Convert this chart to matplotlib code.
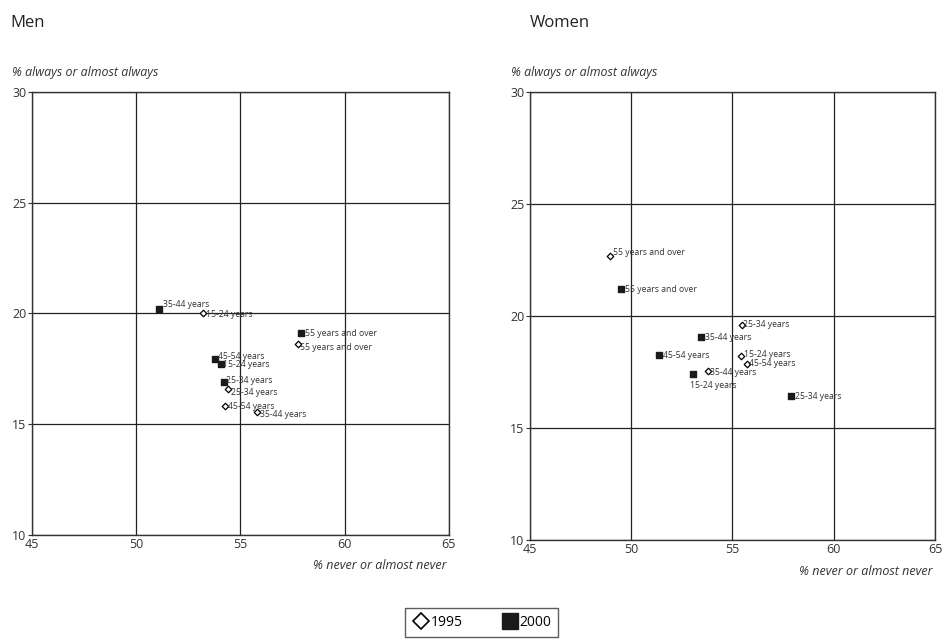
import matplotlib
matplotlib.use("Agg")
import matplotlib.pyplot as plt
from matplotlib.lines import Line2D

plt.rcParams['font.family'] = ['Open Sans', 'DejaVu Sans']

groups = ["15-24 years", "25-34 years", "35-44 years", "45-54 years", "55 years and over"]

# Men: x = % never or almost never, y = % always or almost always
men_1995_x = [53.2, 54.4, 55.8, 54.25, 57.75]
men_1995_y = [20.0, 16.6, 15.55, 15.8, 18.6]
men_2000_x = [54.05, 54.2, 51.1, 53.8, 57.9]
men_2000_y = [17.7, 16.9, 20.2, 17.95, 19.1]

# Women
women_1995_x = [55.42, 55.47, 53.8, 55.7, 48.95]
women_1995_y = [18.2, 19.6, 17.55, 17.86, 22.7]
women_2000_x = [53.05, 57.9, 53.45, 51.37, 49.5]
women_2000_y = [17.4, 16.43, 19.06, 18.26, 21.2]

# label offsets in points (dx, dy)
men_1995_off = [(2, -1), (2, -3), (2, -2), (2, 0), (2, -2)]
men_2000_off = [(2, 0), (2, 1), (3, 3), (2, 2), (3, 0)]
women_1995_off = [(2, 1), (1, 0), (1, -1), (2, 0), (2, 2)]
women_2000_off = [(-2, -8), (3, 0), (3, 0), (3, 0), (3, 0)]

fig = plt.figure(figsize=(9.43, 6.43), dpi=100)
ax_m = fig.add_axes([0.0339, 0.168, 0.442, 0.689])
ax_w = fig.add_axes([0.562, 0.160, 0.4295, 0.697])


def draw_panel(ax, x95, y95, x00, y00, off95, off00):
    ax.set_xlim(45, 65)
    ax.set_ylim(10, 30)
    ax.set_xticks([45, 50, 55, 60, 65])
    ax.set_yticks([10, 15, 20, 25, 30])
    ax.grid(True, color="#222222", linewidth=0.9)
    ax.set_axisbelow(True)
    for s in ax.spines.values():
        s.set_color("#333333")
        s.set_linewidth(1.0)
    ax.tick_params(axis="y", length=3, width=0.8, pad=1, labelsize=9, colors="#333333")
    ax.tick_params(axis="x", length=0, pad=2, labelsize=9, colors="#333333")
    ax.scatter(x95, y95, marker="D", s=11, facecolor="white", edgecolor="black", linewidths=0.9, zorder=3)
    ax.scatter(x00, y00, marker="s", s=24, facecolor="#1a1a1a", edgecolor="#1a1a1a", zorder=3)
    for i, g in enumerate(groups):
        ax.annotate(g, (x95[i], y95[i]), xytext=off95[i], textcoords="offset points",
                    fontsize=6.2, color="#333333", va="center", ha="left")
        ax.annotate(g, (x00[i], y00[i]), xytext=off00[i], textcoords="offset points",
                    fontsize=6.2, color="#333333", va="center", ha="left")
    ax.text(-0.048, 1.03, "% always or almost always", transform=ax.transAxes,
            fontsize=8.9, style="italic", color="#333333", ha="left", va="bottom")
    ax.text(0.995, -0.055, "% never or almost never", transform=ax.transAxes,
            fontsize=9, style="italic", color="#333333", ha="right", va="top")


draw_panel(ax_m, men_1995_x, men_1995_y, men_2000_x, men_2000_y, men_1995_off, men_2000_off)
draw_panel(ax_w, women_1995_x, women_1995_y, women_2000_x, women_2000_y, women_1995_off, women_2000_off)

fig.text(0.011, 0.965, "Men", fontsize=12, color="#222222", va="center")
fig.text(0.562, 0.965, "Women", fontsize=12, color="#222222", va="center")

handles = [
    Line2D([], [], marker="D", linestyle="none", markersize=8, markerfacecolor="white",
           markeredgecolor="black", markeredgewidth=1.2, label="1995"),
    Line2D([], [], marker="s", linestyle="none", markersize=11, markerfacecolor="#1a1a1a",
           markeredgecolor="#1a1a1a", label="2000"),
]
fig.legend(handles=handles, loc="center", bbox_to_anchor=(0.511, 0.032), ncol=2,
           frameon=True, fancybox=False, edgecolor="#333333", fontsize=10,
           handletextpad=0.1, columnspacing=2.8, borderpad=0.5, handlelength=1.2)

fig.savefig("out.png", dpi=100)
